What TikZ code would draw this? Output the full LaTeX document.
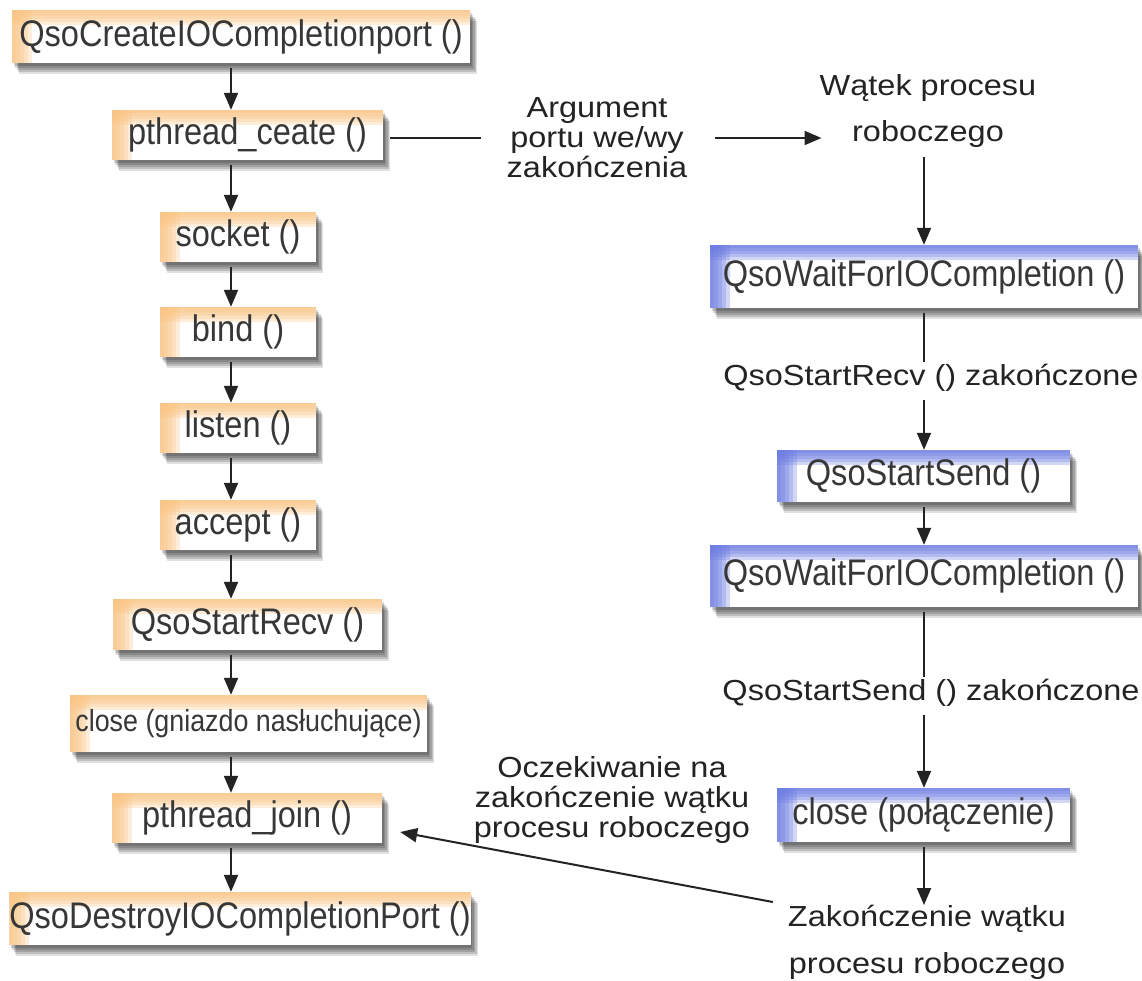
\documentclass[tikz,border=0pt]{standalone}
\usepackage{fontspec}
\newfontfamily\boxfont{Liberation Sans}[FakeStretch=0.88]
\newfontfamily\lblfont{Liberation Sans}[FakeStretch=1.12]
\usetikzlibrary{arrows.meta,shadows}

\definecolor{edgeorange}{RGB}{250,196,132}
\definecolor{edgeblue}{RGB}{108,124,226}
\definecolor{ink}{RGB}{35,35,35}
\definecolor{txt}{RGB}{55,55,55}

\tikzset{
  % soft drop shadow built from stacked translucent copies
  softshadow/.style={
    general shadow={fill=black, opacity=.15, shadow xshift=1.5pt, shadow yshift=-2.5pt},
    general shadow={fill=black, opacity=.15, shadow xshift=3pt, shadow yshift=-4.5pt},
    general shadow={fill=black, opacity=.15, shadow xshift=4.5pt, shadow yshift=-6.5pt},
    general shadow={fill=black, opacity=.15, shadow xshift=6pt, shadow yshift=-8.5pt},
    general shadow={fill=black, opacity=.12, shadow xshift=7pt, shadow yshift=-10.5pt}},
  % white box with a coloured glow along its top and left edges
  fnbox/.style={rectangle, fill=white, inner sep=0pt, text=txt,
    font=\boxfont\fontsize{37}{40}\selectfont, softshadow,
    path picture={
      \foreach \d in {3,6,...,15}
        \fill[#1, opacity=.3] (path picture bounding box.north west) rectangle
          ([yshift=-\d pt]path picture bounding box.north east);
      \foreach \d in {4,8,...,20}
        \fill[#1, opacity=.3] (path picture bounding box.north west) rectangle
          ([xshift=\d pt]path picture bounding box.south west);
    }},
  mainbox/.style={fnbox=edgeorange},
  workbox/.style={fnbox=edgeblue},
  flowlbl/.style={inner sep=0pt, text=ink, align=center,
    font=\lblfont\fontsize{29}{30}\selectfont},
  widelbl/.style={flowlbl, font=\lblfont\fontsize{29}{46.5}\selectfont},
  link/.style={draw=ink, line width=2pt},
  arr/.style={link, -{Triangle[width=14pt,length=17pt]}},
}

\begin{document}
\begin{tikzpicture}[x=1pt, y=-1pt]
\useasboundingbox (0,0) rectangle (1142,980);
\fill[white] (0,0) rectangle (1142,980);

% main thread
\node[mainbox, minimum width=458pt, minimum height=53pt] (c1) at (241,36.5) {QsoCreateIOCompletionport ()};
\node[mainbox, minimum width=271pt, minimum height=50pt] (c2) at (247.5,135) {pthread\_ceate ()};
\node[mainbox, minimum width=156pt, minimum height=50pt] (c3) at (238,237) {socket ()};
\node[mainbox, minimum width=156pt, minimum height=50pt] (c4) at (238,332) {bind ()};
\node[mainbox, minimum width=156pt, minimum height=50pt] (c5) at (238,428) {listen ()};
\node[mainbox, minimum width=156pt, minimum height=50pt] (c6) at (238,525) {accept ()};
\node[mainbox, minimum width=269pt, minimum height=51pt] (c7) at (247.5,624.5) {QsoStartRecv ()};
\node[mainbox, minimum width=357pt, minimum height=57pt,
      font=\boxfont\fontsize{30.5}{33}\selectfont] (c8) at (248.5,723.5) {close (gniazdo nasłuchujące)};
\node[mainbox, minimum width=270pt, minimum height=50pt] (c9) at (247,818) {pthread\_join ()};
\node[mainbox, minimum width=460pt, minimum height=53pt] (c10) at (240,918.5) {QsoDestroyIOCompletionPort ()};

% worker thread
\node[workbox, minimum width=428pt, minimum height=63pt] (w1) at (924,276.5) {QsoWaitForIOCompletion ()};
\node[workbox, minimum width=293pt, minimum height=52pt] (s1) at (923.5,476) {QsoStartSend ()};
\node[workbox, minimum width=428pt, minimum height=62pt] (w2) at (924,576) {QsoWaitForIOCompletion ()};
\node[workbox, minimum width=293pt, minimum height=54pt] (cl) at (923.5,815) {close (połączenie)};

% labels
\node[flowlbl] (arg) at (597,138) {Argument\\portu we/wy\\zakończenia};
\node[widelbl] (wat) at (928,111) {Wątek procesu\\roboczego};
\node[flowlbl, anchor=north] (r1) at (931,364) {QsoStartRecv () zakończone};
\node[flowlbl, anchor=north] (r2) at (931,679) {QsoStartSend () zakończone};
\node[flowlbl] (wait) at (612,800) {Oczekiwanie na\\zakończenie wątku\\procesu roboczego};
\node[widelbl, anchor=north] (zak) at (927,905) {Zakończenie wątku\\procesu roboczego};

% column axes
\coordinate (lx) at (231,0);
\coordinate (rx) at (924,0);

% main thread flow
\foreach \a/\b in {c1/c2, c2/c3, c3/c4, c4/c5, c5/c6, c6/c7, c7/c8, c8/c9, c9/c10}
  \draw[arr, shorten <=5pt] (\a.south -| lx) -- (\b.north -| lx);

% thread creation
\draw[link, shorten <=7pt, shorten >=26pt] (c2.east |- arg.west) -- (arg.west);
\draw[arr, shorten <=28pt, shorten >=-2pt] (arg.east) -- (arg.east -| wat.west);

% worker flow
\draw[arr, shorten <=9pt] (wat.south -| rx) -- (w1.north -| rx);
\draw[link, shorten <=5pt, shorten >=2pt] (w1.south -| rx) -- (r1.north -| rx);
\draw[arr, shorten <=8pt] (r1.south -| rx) -- (s1.north -| rx);
\draw[arr, shorten <=5pt] (s1.south -| rx) -- (w2.north -| rx);
\draw[link, shorten <=5pt, shorten >=2pt] (w2.south -| rx) -- (r2.north -| rx);
\draw[arr, shorten <=8pt] (r2.south -| rx) -- (cl.north -| rx);
\draw[arr, shorten <=5pt] (cl.south -| rx) -- (zak.north -| rx);

% join
\draw[arr] ([shift={(-15pt,3pt)}]zak.north west) -- ([shift={(18pt,-14pt)}]c9.east);
\end{tikzpicture}
\end{document}
